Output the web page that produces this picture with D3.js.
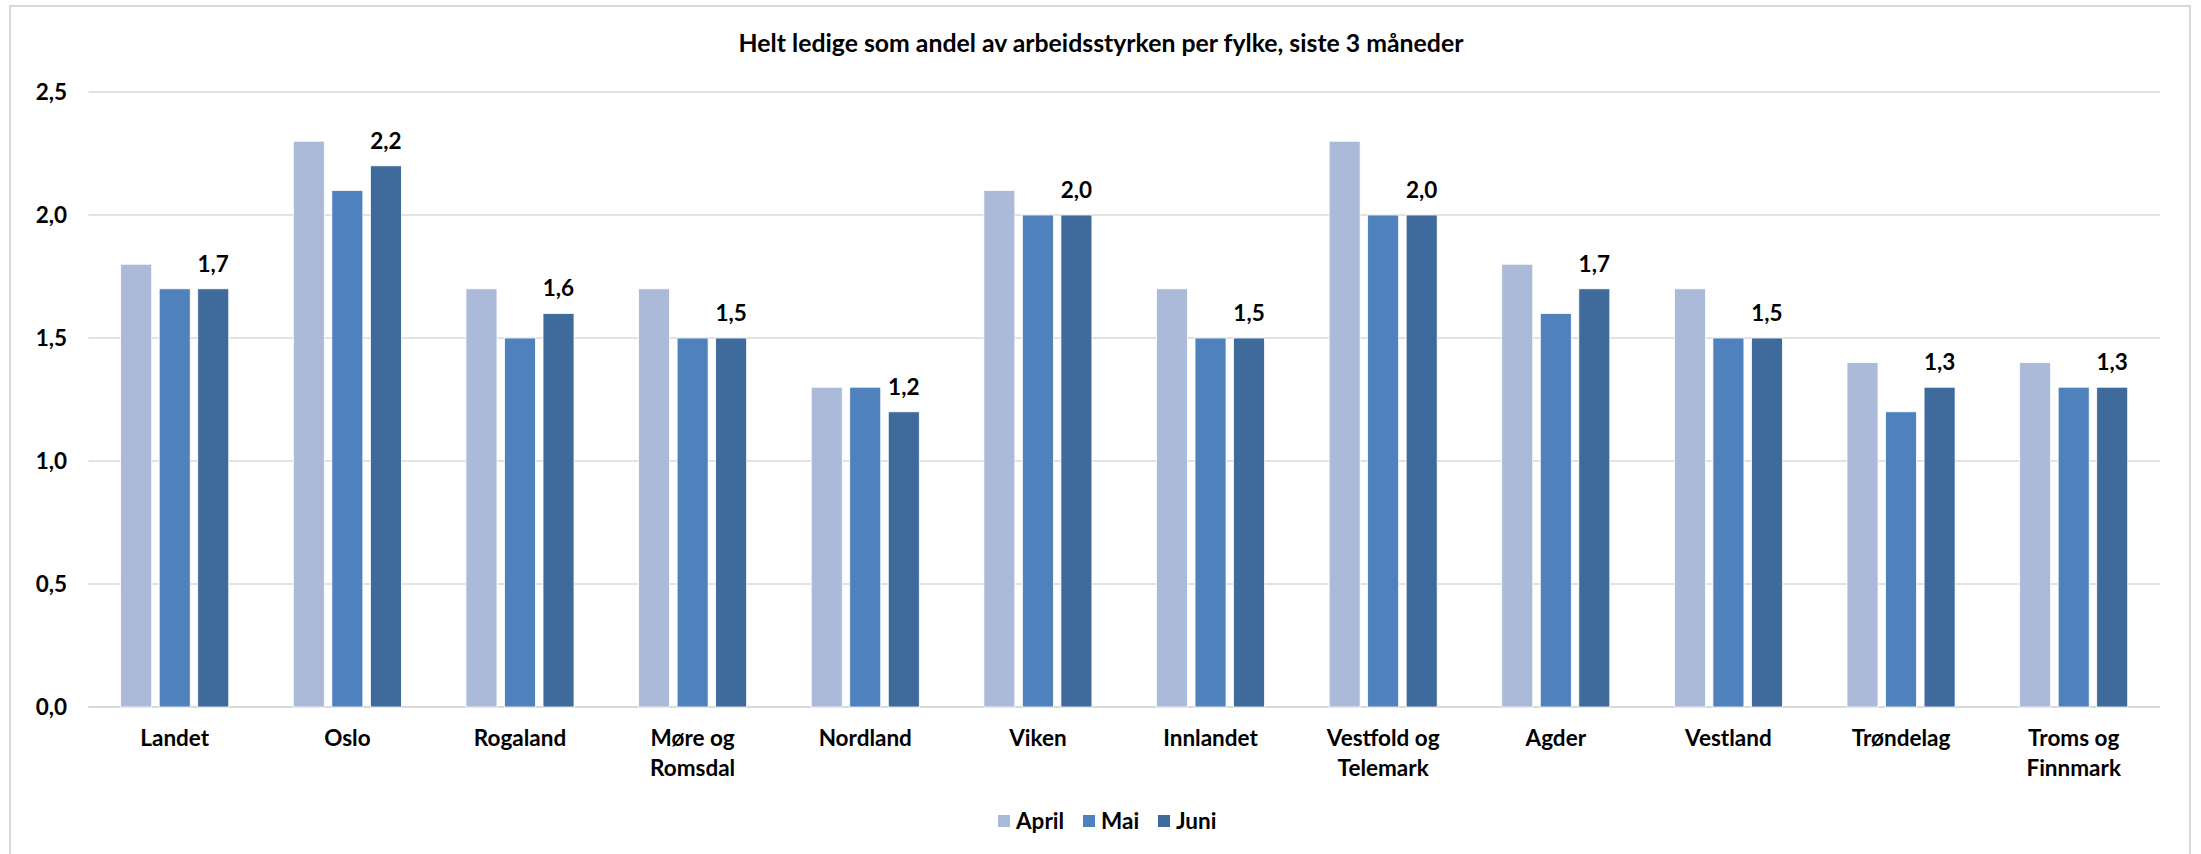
<!DOCTYPE html>
<html>
<head>
<meta charset="utf-8">
<script src="https://cdn.jsdelivr.net/npm/d3@7"></script>
<style>
  html, body { margin: 0; padding: 0; background: #ffffff; }
  svg { display: block; }
  text { font-family: Lato, "Open Sans", sans-serif; font-weight: 700; fill: #000; }
</style>
</head>
<body>
<svg id="chart" width="2201" height="854"></svg>
<script>
const title = "Helt ledige som andel av arbeidsstyrken per fylke, siste 3 måneder";
const categories = ["Landet", "Oslo", "Rogaland", "Møre og Romsdal", "Nordland", "Viken",
  "Innlandet", "Vestfold og Telemark", "Agder", "Vestland", "Trøndelag", "Troms og Finnmark"];
const categoryLines = [["Landet"], ["Oslo"], ["Rogaland"], ["Møre og", "Romsdal"], ["Nordland"], ["Viken"],
  ["Innlandet"], ["Vestfold og", "Telemark"], ["Agder"], ["Vestland"], ["Trøndelag"], ["Troms og", "Finnmark"]];
const seriesNames = ["April", "Mai", "Juni"];
const april = [1.8, 2.3, 1.7, 1.7, 1.3, 2.1, 1.7, 2.3, 1.8, 1.7, 1.4, 1.4];
const mai   = [1.7, 2.1, 1.5, 1.5, 1.3, 2.0, 1.5, 2.0, 1.6, 1.5, 1.2, 1.3];
const juni  = [1.7, 2.2, 1.6, 1.5, 1.2, 2.0, 1.5, 2.0, 1.7, 1.5, 1.3, 1.3];
const yTicks = [0, 0.5, 1.0, 1.5, 2.0, 2.5];
const colors = ["#abbad8", "#4f81bd", "#3f6a9c"];

const seriesValues = [april, mai, juni];
const svg = d3.select("#chart");
const locale = d3.formatLocale({decimal: ",", thousands: " ", grouping: [3], currency: ["", " kr"]});
const fmt = locale.format(".1f");
const labelSize = 22.5;

// chart border
svg.append("rect").attr("x", 10).attr("y", 6).attr("width", 2180).attr("height", 870)
  .attr("fill", "none").attr("stroke", "#d9d9d9").attr("stroke-width", 2);

const plotLeft = 88.4, plotRight = 2160, plotTop = 92, plotBottom = 707;
const x0 = d3.scaleBand().domain(categories).range([plotLeft, plotRight]).paddingInner(0.374).paddingOuter(0.187);
const x1 = d3.scaleBand().domain(seriesNames).range([0, x0.bandwidth()]).paddingInner(0.195).paddingOuter(0);
const y = d3.scaleLinear().domain([0, 2.5]).range([plotBottom, plotTop]);

// gridlines
svg.append("g").selectAll("line").data(yTicks).join("line")
  .attr("x1", plotLeft).attr("x2", plotRight)
  .attr("y1", d => y(d)).attr("y2", d => y(d))
  .attr("stroke", "#d9d9d9").attr("stroke-width", d => d === 0 ? 2 : 1.5);

// y axis labels
const yAxis = d3.axisLeft(y).tickValues(yTicks).tickFormat(fmt).tickSize(0).tickPadding(0);
const ya = svg.append("g").attr("transform", "translate(67,0)").call(yAxis);
ya.select(".domain").remove();
ya.selectAll("text").attr("font-size", labelSize).attr("font-family", "Lato, sans-serif")
  .attr("font-weight", 700).attr("fill", "#000").attr("dy", "0.35em");

// bars
const groups = svg.append("g").selectAll("g").data(categories).join("g")
  .attr("transform", d => `translate(${x0(d)},0)`);
groups.selectAll("rect").data((d, i) => seriesNames.map((s, j) => ({s, v: seriesValues[j][i], j})))
  .join("rect")
  .attr("x", d => x1(d.s)).attr("width", x1.bandwidth())
  .attr("y", d => y(d.v)).attr("height", d => y(0) - y(d.v))
  .attr("fill", d => colors[d.j])
  .attr("stroke", "#ffffff").attr("stroke-width", 0.8);

// data labels on Juni
groups.append("text")
  .attr("x", x1("Juni") + x1.bandwidth() / 2)
  .attr("y", (d, i) => y(juni[i]) - 17)
  .attr("text-anchor", "middle").attr("font-size", labelSize)
  .text((d, i) => fmt(juni[i]));

// category labels
const xAxis = d3.axisBottom(x0).tickSize(0).tickPadding(0).tickFormat("");
const xa = svg.append("g").attr("transform", `translate(0,${plotBottom})`).call(xAxis);
xa.select(".domain").remove();
xa.selectAll(".tick").each(function(d, i) {
  const t = d3.select(this).append("text").attr("text-anchor", "middle").attr("font-size", labelSize)
    .attr("fill", "#000");
  categoryLines[i].forEach((line, k) => {
    t.append("tspan").attr("x", 0).attr("y", 39 + k * 30).text(line);
  });
});

// title
svg.append("text").attr("x", 1101).attr("y", 52).attr("text-anchor", "middle")
  .attr("font-size", 24.8).text(title);

// legend
const legendX = [998, 1083, 1158];
const legend = svg.append("g").selectAll("g").data(seriesNames).join("g")
  .attr("transform", (d, i) => `translate(${legendX[i]},821)`);
legend.append("rect").attr("x", 0).attr("y", -6).attr("width", 12).attr("height", 12)
  .attr("fill", (d, i) => colors[i]);
legend.append("text").attr("x", 18).attr("y", 0).attr("dy", "0.35em").attr("font-size", labelSize).text(d => d);
</script>
</body>
</html>
